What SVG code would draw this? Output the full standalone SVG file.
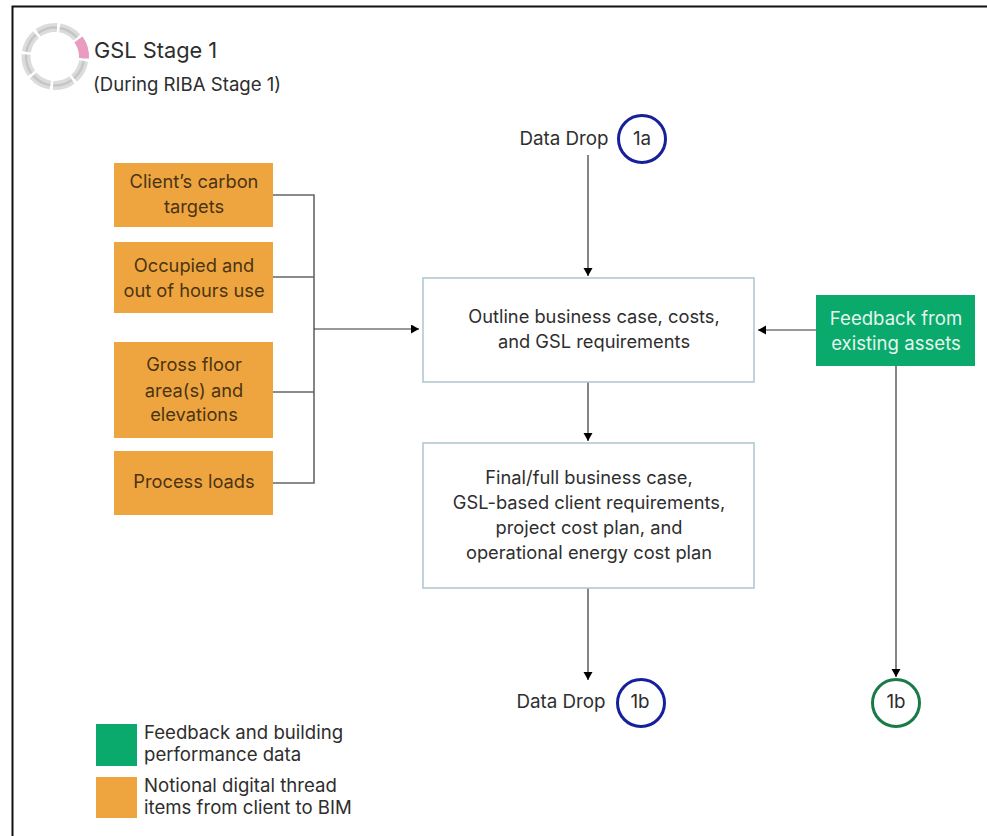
<svg xmlns="http://www.w3.org/2000/svg" width="987" height="836" viewBox="0 0 987 836">
<style>
text{font-family:"Inter","Noto Sans","Liberation Sans",sans-serif;font-size:18.300px;fill:#2e2e2e;text-anchor:middle}
.o{fill:#efa53f}.g{fill:#0aaa6c}.b{fill:#fff;stroke:#b4c8d2;stroke-width:1.6}
.ot text{fill:#4a3414}
text.l{text-anchor:start;font-size:18.600px}
text.w{fill:#e4f5ec;font-size:18.600px}
text.d{font-size:18.800px}
.c{fill:none;stroke:#666;stroke-width:1.6}
.a{fill:none;stroke:#333;stroke-width:1.2;marker-end:url(#ah)}
.seg{fill:none;stroke:#dcdcdc;stroke-width:9;stroke-dasharray:20 2.775}
.seg2{fill:none;stroke:#c6c6c6;stroke-width:2.500;stroke-dasharray:20 2.775}
</style>
<defs><marker id="ah" markerUnits="userSpaceOnUse" markerWidth="10" markerHeight="10" refX="8" refY="4.5" orient="auto"><path d="M0 0L8 4.5L0 9Z" fill="#000"/></marker></defs>
<rect width="987" height="836" fill="#fff"/>
<path d="M12.500 836V6.500H987" fill="none" stroke="#111" stroke-width="2"/>
<g id="stage-ring" transform="rotate(-36 55 56.500)">
<circle cx="55" cy="56.500" r="29" class="seg"/>
<circle cx="55" cy="56.500" r="29" class="seg2"/>
<circle cx="55" cy="56.500" r="29" fill="none" stroke="#e99cc0" stroke-width="10" stroke-dasharray="20 162.200"/>
</g>
<g id="title"><text class="l" x="94" y="58" style="font-size:21.800px">GSL Stage 1</text>
<text class="l" x="93" y="91">(During RIBA Stage 1)</text></g>
<g id="connectors">
<path class="c" d="M273 195H314V483H273M273 277H314M273 392H314"/>
<path class="a" d="M314 329H419"/>
<path class="a" d="M588 155V276"/>
<path class="a" d="M816 330H758"/>
<path class="a" d="M588 382V441"/>
<path class="a" d="M588 588V680"/>
<path class="a" d="M896 366V677"/>
</g>
<g id="n1" class="ot"><rect class="o" x="114" y="163" width="159" height="64"/><text x="194" y="188">Client’s carbon</text><text x="194" y="213">targets</text></g>
<g id="n2" class="ot"><rect class="o" x="114" y="242" width="159" height="71"/><text x="194" y="272">Occupied and</text><text x="194" y="297">out of hours use</text></g>
<g id="n3" class="ot"><rect class="o" x="114" y="342" width="159" height="96"/><text x="194" y="371">Gross floor</text><text x="194" y="397">area(s) and</text><text x="194" y="421">elevations</text></g>
<g id="n4" class="ot"><rect class="o" x="114" y="451" width="159" height="64"/><text x="194" y="488">Process loads</text></g>
<g id="n5"><rect class="b" x="423" y="278" width="331" height="104"/><text x="594" y="323">Outline business case, costs,</text><text x="594" y="348">and GSL requirements</text></g>
<g id="n6"><rect class="b" x="423" y="443" width="331" height="145"/><text x="589" y="484">Final/full business case,</text><text x="589" y="509">GSL-based client requirements,</text><text x="589" y="534">project cost plan, and</text><text x="589" y="559">operational energy cost plan</text></g>
<g id="n7"><rect class="g" x="816" y="295" width="159" height="71"/><text class="w" x="896" y="325">Feedback from</text><text class="w" x="896" y="350">existing assets</text></g>
<g id="d1a"><text class="d" x="564" y="145">Data Drop</text><circle cx="642" cy="139" r="23.500" fill="none" stroke="#15209a" stroke-width="3"/><text class="d" x="642" y="145">1a</text></g>
<g id="d1b"><text class="d" x="561" y="708">Data Drop</text><circle cx="641" cy="703" r="23.500" fill="none" stroke="#15209a" stroke-width="3"/><text class="d" x="640" y="708">1b</text></g>
<g id="f1b"><circle cx="896" cy="703" r="23.500" fill="none" stroke="#1a7a46" stroke-width="3"/><text class="d" x="896" y="708">1b</text></g>
<g id="legend">
<rect class="g" x="96" y="724" width="41" height="42"/><text class="l" x="144" y="739">Feedback and building</text><text class="l" x="144" y="761">performance data</text>
<rect class="o" x="96" y="777" width="41" height="41"/><text class="l" x="144" y="792">Notional digital thread</text><text class="l" x="144" y="814">items from client to BIM</text>
</g>
</svg>
